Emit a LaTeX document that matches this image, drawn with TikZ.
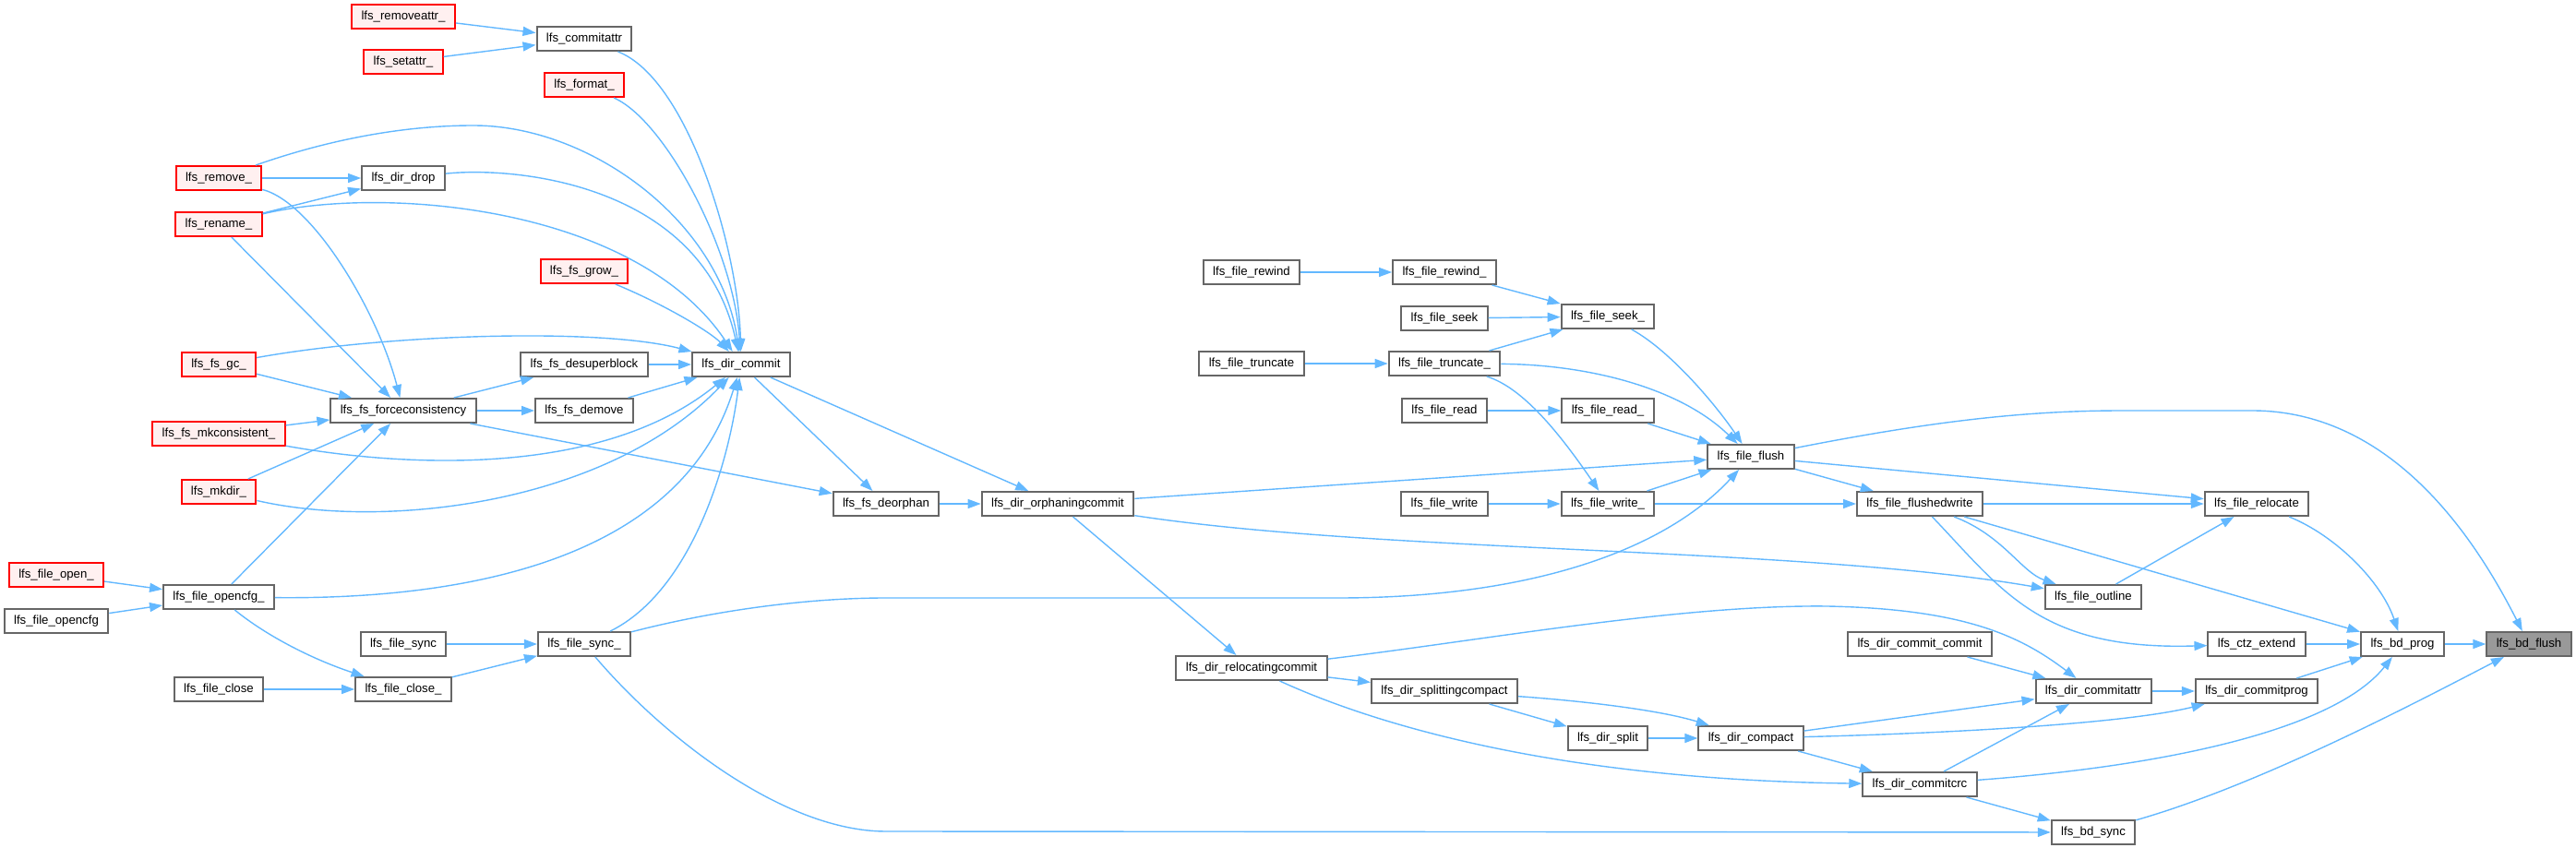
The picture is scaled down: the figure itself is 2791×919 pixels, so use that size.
\documentclass[tikz,border=0pt]{standalone}
\usepackage{fontspec}
\setmainfont{Liberation Sans}
\usetikzlibrary{arrows.meta}
\definecolor{azulflecha}{HTML}{63B8FF}
\definecolor{grisborde}{HTML}{666666}
\definecolor{rojofondo}{HTML}{FFF0F0}
\definecolor{grisraiz}{HTML}{999999}
\begin{document}
\begin{tikzpicture}[x=0.5pt,y=-0.5pt,
	fn/.style={draw=grisborde, line width=1pt, fill=white, minimum height=13pt, inner xsep=5.2pt, inner ysep=0pt, text height=4.8pt, text depth=1.4pt, font=\fontsize{6.6}{8}\selectfont},
	fnred/.style={fn, draw=red, fill=rojofondo},
	fnroot/.style={fn, fill=grisraiz},
	call/.style={draw=azulflecha, line width=0.7pt, -{Triangle[length=7pt,width=5pt]}}]
		\useasboundingbox (0,0) rectangle (2791,919);
		
		% Columna izquierda (llamadores externos)
		\node[fnred] (fopen) at (61,623) {lfs\_file\_open\_};
		\node[fn] (fopencfg) at (61,673) {lfs\_file\_opencfg};
		\node[fnred] (remove) at (237,193) {lfs\_remove\_};
		\node[fnred] (rename) at (237,243) {lfs\_rename\_};
		\node[fnred] (fsgc) at (237,395) {lfs\_fs\_gc\_};
		\node[fnred] (mkcons) at (237,470) {lfs\_fs\_mkconsistent\_};
		\node[fnred] (mkdir) at (237,533) {lfs\_mkdir\_};
		\node[fn] (opencfgu) at (237,647) {lfs\_file\_opencfg\_};
		\node[fn] (fclose) at (237,747) {lfs\_file\_close};
		\node[fnred] (removeattr) at (437,18) {lfs\_removeattr\_};
		\node[fnred] (setattr) at (437,67) {lfs\_setattr\_};
		\node[fn] (dirdrop) at (437,193) {lfs\_dir\_drop};
		\node[fn] (forcecons) at (437,445) {lfs\_fs\_forceconsistency};
		\node[fn] (fsync) at (437,698) {lfs\_file\_sync};
		\node[fn] (fcloseu) at (437,747) {lfs\_file\_close\_};
		\node[fn] (commitattr) at (633,42) {lfs\_commitattr};
		\node[fnred] (format) at (633,92) {lfs\_format\_};
		\node[fnred] (fsgrow) at (633,294) {lfs\_fs\_grow\_};
		\node[fn] (desuper) at (633,395) {lfs\_fs\_desuperblock};
		\node[fn] (demove) at (633,445) {lfs\_fs\_demove};
		\node[fn] (fsyncu) at (633,698) {lfs\_file\_sync\_};
		
		% Columnas centrales
		\node[fn] (dircommit) at (803,395) {lfs\_dir\_commit};
		\node[fn] (deorphan) at (960,546) {lfs\_fs\_deorphan};
		\node[fn] (orphaning) at (1146,546) {lfs\_dir\_orphaningcommit};
		\node[fn] (rewind) at (1356,295) {lfs\_file\_rewind};
		\node[fn] (truncate) at (1356,394) {lfs\_file\_truncate};
		\node[fn] (relocating) at (1356,724) {lfs\_dir\_relocatingcommit};
		\node[fn] (rewindu) at (1565,295) {lfs\_file\_rewind\_};
		\node[fn] (seek) at (1565,345) {lfs\_file\_seek};
		\node[fn] (truncateu) at (1565,394) {lfs\_file\_truncate\_};
		\node[fn] (read) at (1565,445) {lfs\_file\_read};
		\node[fn] (write) at (1565,546) {lfs\_file\_write};
		\node[fn] (splitting) at (1565,749) {lfs\_dir\_splittingcompact};
		\node[fn] (seeku) at (1742,343) {lfs\_file\_seek\_};
		\node[fn] (readu) at (1742,445) {lfs\_file\_read\_};
		\node[fn] (writeu) at (1742,546) {lfs\_file\_write\_};
		\node[fn] (split) at (1742,800) {lfs\_dir\_split};
		\node[fn] (flush) at (1897,495) {lfs\_file\_flush};
		\node[fn] (compact) at (1897,800) {lfs\_dir\_compact};
		
		% Columnas derechas
		\node[fn] (flushedw) at (2080,546) {lfs\_file\_flushedwrite};
		\node[fn] (dcommitcommit) at (2080,698) {lfs\_dir\_commit\_commit};
		\node[fn] (commitcrc) at (2080,850) {lfs\_dir\_commitcrc};
		\node[fn] (outline) at (2268,647) {lfs\_file\_outline};
		\node[fn] (dcommitattr) at (2268,749) {lfs\_dir\_commitattr};
		\node[fn] (bdsync) at (2268,902) {lfs\_bd\_sync};
		\node[fn] (relocate) at (2445,546) {lfs\_file\_relocate};
		\node[fn] (ctz) at (2445,698) {lfs\_ctz\_extend};
		\node[fn] (commitprog) at (2445,749) {lfs\_dir\_commitprog};
		\node[fn] (bdprog) at (2603,698) {lfs\_bd\_prog};
		\node[fnroot] (bdflush) at (2740,698) {lfs\_bd\_flush};
		
		% Llamadas rectas
		\draw[call] (removeattr) -- (commitattr);
		\draw[call] (setattr) -- (commitattr);
		\draw[call] (remove) -- (dirdrop);
		\draw[call] (rename) -- (dirdrop);
		\draw[call] (rename) -- (forcecons);
		\draw[call] (fsgc) -- (forcecons);
		\draw[call] (mkcons) -- (forcecons);
		\draw[call] (mkdir) -- (forcecons);
		\draw[call] (opencfgu) -- (forcecons);
		\draw[call] (fopen) -- (opencfgu);
		\draw[call] (fopencfg) -- (opencfgu);
		\draw[call] (fclose) -- (fcloseu);
		\draw[call] (fsync) -- (fsyncu);
		\draw[call] (fcloseu) -- (fsyncu);
		\draw[call] (forcecons) -- (desuper);
		\draw[call] (forcecons) -- (demove);
		\draw[call] (forcecons) -- (deorphan);
		\draw[call] (desuper) -- (dircommit);
		\draw[call] (demove) -- (dircommit);
		\draw[call] (dircommit) -- (deorphan);
		\draw[call] (dircommit) -- (orphaning);
		\draw[call] (deorphan) -- (orphaning);
		\draw[call] (orphaning) -- (relocating);
		\draw[call] (orphaning) -- (flush);
		\draw[call] (rewind) -- (rewindu);
		\draw[call] (seek) -- (seeku);
		\draw[call] (truncate) -- (truncateu);
		\draw[call] (read) -- (readu);
		\draw[call] (write) -- (writeu);
		\draw[call] (rewindu) -- (seeku);
		\draw[call] (truncateu) -- (seeku);
		\draw[call] (readu) -- (flush);
		\draw[call] (writeu) -- (flush);
		\draw[call] (writeu) -- (flushedw);
		\draw[call] (flush) -- (flushedw);
		\draw[call] (flush) -- (relocate);
		\draw[call] (flushedw) -- (relocate);
		\draw[call] (outline) -- (relocate);
		\draw[call] (flushedw) -- (bdprog);
		\draw[call] (ctz) -- (bdprog);
		\draw[call] (commitprog) -- (bdprog);
		\draw[call] (bdprog) -- (bdflush);
		\draw[call] (relocating) -- (splitting);
		\draw[call] (splitting) -- (split);
		\draw[call] (split) -- (compact);
		\draw[call] (compact) -- (dcommitattr);
		\draw[call] (compact) -- (commitcrc);
		\draw[call] (dcommitcommit) -- (dcommitattr);
		\draw[call] (commitcrc) -- (dcommitattr);
		\draw[call] (dcommitattr) -- (commitprog);
		\draw[call] (commitcrc) -- (bdsync);
		
		% Llamadas curvas hacia lfs_dir_commit
		\draw[call] (commitattr) .. controls (745,85) and (800,270) .. (dircommit);
		\draw[call] (format) .. controls (720,130) and (795,270) .. (dircommit);
		\draw[call] (remove) .. controls (360,150) and (440,136) .. (513,136) .. controls (640,136) and (780,240) .. (dircommit);
		\draw[call] (dirdrop) .. controls (560,180) and (760,200) .. (dircommit);
		\draw[call] (rename) .. controls (420,200) and (690,225) .. (dircommit);
		\draw[call] (fsgrow) .. controls (720,330) and (770,360) .. (dircommit);
		\draw[call] (fsgc) .. controls (420,362) and (650,355) .. (dircommit);
		\draw[call] (mkcons) .. controls (430,505) and (650,520) .. (dircommit);
		\draw[call] (mkdir) .. controls (420,575) and (660,545) .. (dircommit);
		\draw[call] (opencfgu) .. controls (520,650) and (740,600) .. (dircommit);
		\draw[call] (fsyncu) .. controls (750,640) and (790,500) .. (dircommit);
		\draw[call] (remove) .. controls (340,220) and (410,340) .. (forcecons);
		\draw[call] (opencfgu) .. controls (290,690) and (340,715) .. (fcloseu);
		
		% Llamadas curvas largas
		\draw[call] (fsyncu) .. controls (780,660) and (880,648) .. (960,648) -- (1450,648) .. controls (1650,648) and (1800,600) .. (flush);
		\draw[call] (fsyncu) .. controls (720,800) and (850,901) .. (960,901) -- (bdsync);
		\draw[call] (orphaning) .. controls (1500,600) and (1950,592) .. (outline);
		\draw[call] (seeku) .. controls (1810,380) and (1860,440) .. (flush);
		\draw[call] (truncateu) .. controls (1720,395) and (1820,420) .. (flush);
		\draw[call] (truncateu) .. controls (1650,420) and (1690,470) .. (writeu);
		\draw[call] (relocating) .. controls (1600,695) and (1820,655) .. (1980,657) .. controls (2130,660) and (2190,690) .. (dcommitattr);
		\draw[call] (relocating) .. controls (1500,790) and (1700,845) .. (commitcrc);
		\draw[call] (splitting) .. controls (1720,760) and (1800,770) .. (compact);
		\draw[call] (compact) .. controls (2100,795) and (2300,785) .. (commitprog);
		\draw[call] (flushedw) .. controls (2170,580) and (2190,620) .. (outline);
		\draw[call] (flushedw) .. controls (2170,640) and (2210,705) .. (ctz);
		\draw[call] (relocate) .. controls (2530,580) and (2580,630) .. (bdprog);
		\draw[call] (commitcrc) .. controls (2350,830) and (2530,790) .. (bdprog);
		\draw[call] (flush) .. controls (2100,455) and (2200,445) .. (2300,445) -- (2440,445) .. controls (2600,445) and (2690,600) .. (bdflush);
		\draw[call] (bdsync) .. controls (2450,850) and (2620,760) .. (bdflush);
	\end{tikzpicture}
\end{document}
